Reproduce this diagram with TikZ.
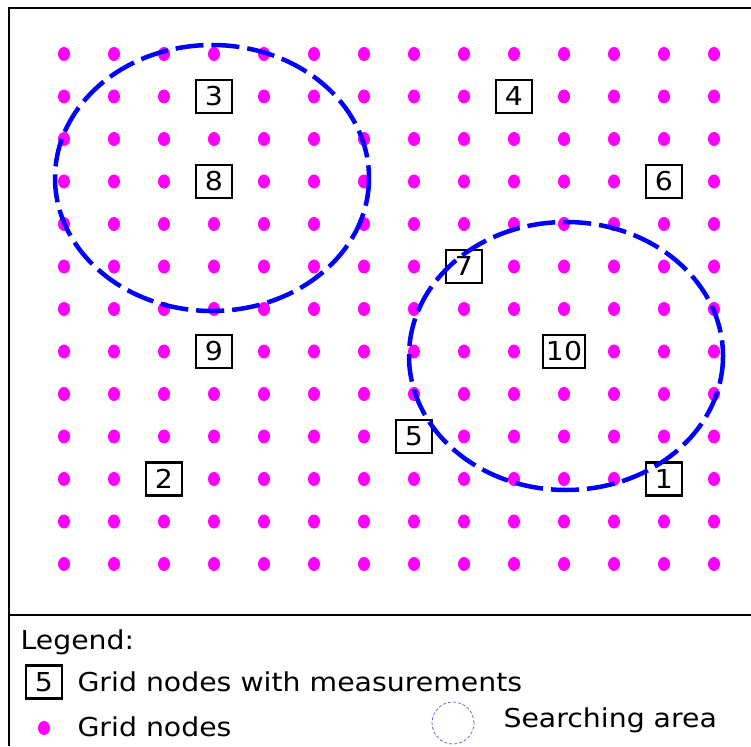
\documentclass[tikz,border=0pt]{standalone}
\usepackage{fontspec}
\setmainfont[FakeStretch=1.09]{DejaVu Sans}
\usepackage{tikz}
\usetikzlibrary{positioning,shapes.geometric}
\definecolor{gridpink}{RGB}{255,0,255}
\tikzset{
    gridnode/.style={ellipse, fill=gridpink, inner sep=0pt, minimum width=12, minimum height=14},
    measbox/.style={rectangle, draw, line width=2.4pt, fill=white, inner sep=3pt, minimum width=36, minimum height=33},
    searcharea/.style={draw=blue, line width=4.5pt, dash pattern=on 28pt off 8pt},
    legendarea/.style={circle, draw=blue!60, densely dashed, line width=0.8pt, minimum size=42},
    frame/.style={draw, line width=2pt},
    legtext/.style={anchor=west}
}

\begin{document}
\begin{tikzpicture}[x=1pt, y=-1pt, font=\fontsize{26}{30}\selectfont]
    \useasboundingbox (0,0) rectangle (751,746);

    % frame
    \draw[frame] (751,8) -- (9,8) -- (9,746);
    \draw[frame] (9,615) -- (751,615);

    % Nodes with measurements
    \foreach \i/\j/\n in {12/10/1, 2/10/2, 3/1/3, 9/1/4, 7/9/5, 12/3/6, 8/5/7, 3/3/8, 3/7/9, 10/7/10} {
        \node[measbox] (m\n) at ({64+50*\i},{54+42.5*\j}) {\n};
        \expandafter\gdef\csname meas-\i-\j\endcsname{\n}
    }

    % Grid nodes
    \foreach \i in {0,...,13} {
        \foreach \j in {0,...,12} {
            \ifcsname meas-\i-\j\endcsname\else
                \node[gridnode] (g-\i-\j) at ({64+50*\i},{54+42.5*\j}) {};
            \fi
        }
    }

    % searching areas
    \draw[searcharea] (212,178) ellipse [x radius=157, y radius=133];
    \draw[searcharea] (566,356) ellipse [x radius=157, y radius=134];

    % Legend
    \node[legtext] (legtitle) at (17,642) {Legend:};
    \node[measbox] (legbox) at (44,682) {5};
    \node[legtext] (legboxtext) at (74,682) {Grid nodes with measurements};
    \node[gridnode] (legdot) at (44,728) {};
    \node[legtext] (legdottext) at (74,727) {Grid nodes};
    \node[legendarea] (legarea) at (453,723) {};
    \node[legtext] (legareatext) at (500,720) {Searching area};
\end{tikzpicture}
\end{document}
